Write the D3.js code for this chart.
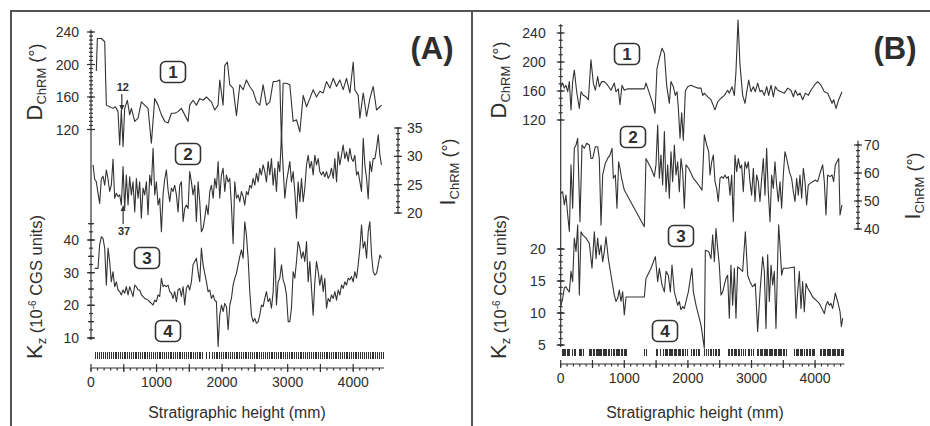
<!DOCTYPE html>
<html lang="en">
<head>
<meta charset="UTF-8">
<title>Stratigraphic profiles</title>
<script src="https://d3js.org/d3.v7.min.js"></script>
<style>
    body { margin: 0; background: #fff; }
    svg text { font-family: 'Liberation Sans', Arial, sans-serif; fill: #2e2e2e; }
    .axis { stroke: #333; stroke-width: 1.2; }
    .frame { stroke: #555; stroke-width: 2; }
    .series { fill: none; stroke: #333; stroke-width: 1.1; stroke-linejoin: round; }
    .sample { stroke: #333; stroke-width: 1; shape-rendering: crispEdges; }
    .tick-label { font-size: 14px; }
    .box { fill: #fff; stroke: #333; stroke-width: 1.6; }
    .box-num { font-size: 17px; font-weight: bold; text-anchor: middle; }
    .panel-tag { font-size: 31px; font-weight: bold; text-anchor: middle; }
    .note { font-size: 11px; font-weight: bold; text-anchor: middle; }
</style>
</head>
<body>
<svg width="930" height="426"></svg>
<script>
    // tick labels
    const heightTicks = [0, 1000, 2000, 3000, 4000];
    const declTicks = [120, 160, 200, 240];
    const inclTicksA = [20, 25, 30, 35];
    const inclTicksB = [40, 50, 60, 70];
    const suscTicksA = [10, 20, 30, 40];
    const suscTicksB = [5, 10, 15, 20];
    const boxNames = ["1", "2", "3", "4"];

    // panel A: [height mm, value]
    const declA = [[81,192],[97,232],[158,232],[209,228],[234,150],[285,148],[336,146],[372,148],[412,142],[438,101],[463,144],[489,99],[514,146],[555,156],[590,138],[616,146],[667,130],[718,134],[768,154],[819,150],[870,146],[921,103],[972,158],[1023,150],[1074,138],[1125,130],[1176,128],[1226,140],[1277,140],[1328,142],[1379,146],[1430,138],[1481,130],[1506,150],[1557,156],[1608,150],[1659,158],[1710,156],[1761,160],[1837,154],[1888,144],[1939,150],[1964,181],[2015,150],[2041,199],[2081,203],[2117,175],[2168,171],[2219,137],[2270,175],[2321,169],[2371,181],[2422,173],[2473,167],[2524,154],[2575,150],[2626,175],[2677,150],[2728,154],[2779,179],[2829,179],[2880,181],[2906,103],[2931,177],[2982,177],[3033,175],[3084,130],[3135,132],[3186,117],[3237,162],[3288,148],[3338,158],[3389,169],[3440,160],[3491,167],[3542,165],[3593,179],[3644,171],[3695,183],[3746,173],[3796,181],[3847,169],[3898,183],[3949,165],[4000,203],[4025,169],[4076,162],[4102,134],[4153,165],[4204,136],[4254,158],[4305,173],[4356,144],[4407,148],[4432,150]];
    const inclA = [[31,28.5],[56,26.0],[81,25.5],[107,23.5],[132,21.7],[158,26.0],[183,26.5],[209,24.9],[234,27.6],[260,26.0],[285,23.8],[310,24.9],[336,29.5],[361,22.6],[387,23.5],[412,22.9],[438,23.2],[463,21.4],[489,28.2],[514,20.8],[539,26.7],[565,21.4],[590,26.4],[616,23.2],[641,25.5],[667,20.2],[692,26.1],[718,22.6],[743,25.5],[768,19.1],[794,24.4],[819,23.2],[845,25.5],[870,19.7],[896,26.7],[921,24.9],[947,31.4],[972,23.2],[997,25.5],[1023,21.4],[1048,22.6],[1074,16.7],[1099,23.2],[1125,26.0],[1150,27.6],[1176,24.0],[1201,22.0],[1226,24.4],[1252,23.8],[1277,24.9],[1303,23.2],[1328,20.2],[1354,24.9],[1379,25.5],[1405,18.5],[1430,20.8],[1455,21.4],[1481,20.8],[1506,27.3],[1532,25.5],[1557,23.2],[1583,24.9],[1608,18.5],[1634,25.5],[1659,22.0],[1684,16.7],[1710,17.3],[1735,19.1],[1761,21.4],[1786,19.7],[1812,23.8],[1837,24.9],[1863,22.6],[1888,26.1],[1913,24.4],[1939,29.1],[1964,22.6],[1990,26.7],[2015,27.9],[2041,23.8],[2066,26.7],[2092,25.5],[2117,26.1],[2142,21.4],[2168,14.6],[2193,25.5],[2219,22.6],[2244,23.2],[2270,22.0],[2295,23.8],[2321,22.9],[2346,21.4],[2371,23.8],[2397,23.2],[2422,24.9],[2448,24.4],[2473,26.1],[2499,24.9],[2524,27.0],[2550,25.5],[2575,27.9],[2600,26.7],[2626,28.5],[2651,27.3],[2677,25.5],[2702,29.1],[2728,26.7],[2753,29.6],[2779,24.9],[2804,27.9],[2829,23.8],[2855,29.1],[2880,27.3],[2906,33.8],[2931,27.9],[2957,22.6],[2982,25.5],[3008,27.3],[3033,29.1],[3058,25.5],[3084,27.3],[3109,23.8],[3135,19.1],[3160,25.5],[3186,22.0],[3211,26.1],[3237,22.0],[3262,24.4],[3288,28.5],[3313,30.2],[3338,27.9],[3364,29.1],[3389,26.7],[3415,30.2],[3440,28.5],[3466,29.6],[3491,27.3],[3517,26.7],[3542,27.3],[3567,26.4],[3593,27.3],[3618,26.1],[3644,26.7],[3669,27.9],[3695,26.1],[3720,29.6],[3746,25.5],[3771,30.8],[3796,28.5],[3822,30.2],[3847,32.0],[3873,29.6],[3898,30.8],[3924,29.1],[3949,31.4],[3975,29.6],[4000,29.1],[4025,30.2],[4051,26.7],[4076,27.3],[4102,25.5],[4127,23.8],[4153,33.2],[4178,28.5],[4204,26.1],[4229,22.5],[4254,29.1],[4280,27.3],[4305,29.6],[4331,29.6],[4356,31.4],[4382,33.8],[4407,30.2],[4432,28.5]];
    const suscA = [[56,31.3],[81,31.3],[107,31.3],[132,38.5],[158,41.0],[183,40.5],[209,37.5],[234,26.2],[260,37.5],[285,33.4],[310,27.2],[336,30.3],[361,25.7],[387,27.2],[412,24.7],[438,24.2],[463,23.2],[489,24.7],[514,23.7],[539,25.7],[565,23.2],[590,25.7],[616,24.2],[641,22.7],[667,26.2],[692,25.7],[718,24.7],[743,24.7],[768,23.2],[794,22.7],[819,22.1],[845,21.9],[870,21.6],[896,21.1],[921,20.6],[947,20.1],[972,21.6],[997,21.1],[1023,23.2],[1048,22.7],[1074,28.3],[1099,25.7],[1125,26.2],[1150,25.7],[1176,26.2],[1201,24.2],[1226,23.7],[1252,22.1],[1277,24.2],[1303,21.1],[1328,24.7],[1354,25.2],[1379,22.7],[1405,25.7],[1430,20.1],[1455,25.2],[1481,26.2],[1506,24.7],[1532,27.2],[1557,32.4],[1583,33.4],[1608,34.4],[1634,30.3],[1659,27.2],[1684,37.5],[1710,32.4],[1735,29.8],[1761,27.2],[1786,24.2],[1812,24.7],[1837,22.1],[1863,23.2],[1888,21.6],[1913,21.1],[1939,7.4],[1964,17.0],[1990,20.1],[2015,18.1],[2041,20.6],[2066,19.6],[2092,12.5],[2117,20.1],[2142,22.1],[2168,26.2],[2193,28.3],[2219,29.8],[2244,32.4],[2270,34.9],[2295,37.0],[2321,34.4],[2346,45.6],[2371,41.5],[2397,34.4],[2422,24.2],[2448,17.0],[2473,15.0],[2499,16.0],[2524,14.5],[2550,15.0],[2575,17.0],[2600,20.1],[2626,19.6],[2651,22.1],[2677,24.2],[2702,21.1],[2728,22.1],[2753,19.1],[2779,24.2],[2804,37.5],[2829,20.1],[2855,27.2],[2880,28.3],[2906,32.4],[2931,27.8],[2957,26.2],[2982,23.2],[3008,15.0],[3033,15.0],[3058,19.1],[3084,30.3],[3109,28.3],[3135,33.4],[3160,39.5],[3186,37.5],[3211,34.4],[3237,36.4],[3262,33.4],[3288,39.5],[3313,27.2],[3338,33.4],[3364,25.2],[3389,17.0],[3415,27.2],[3440,33.4],[3466,30.3],[3491,26.2],[3517,29.3],[3542,24.2],[3567,28.3],[3593,19.1],[3618,22.1],[3644,21.1],[3669,23.2],[3695,22.1],[3720,24.2],[3746,21.6],[3771,24.7],[3796,23.2],[3822,26.2],[3847,25.2],[3873,27.2],[3898,26.2],[3924,28.3],[3949,27.8],[3975,28.8],[4000,27.2],[4025,30.3],[4051,28.3],[4076,32.4],[4102,37.5],[4127,44.6],[4153,37.5],[4178,39.5],[4204,34.4],[4229,42.6],[4254,45.6],[4280,35.4],[4305,30.3],[4331,29.3],[4356,29.8],[4382,32.4],[4407,35.4],[4432,34.4]];
    const samplesA = [60,90,120,150,180,210,240,270,300,330,360,385,410,440,470,500,525,550,580,610,640,665,690,720,750,780,805,830,860,890,920,945,970,1000,1030,1060,1085,1110,1140,1170,1200,1225,1250,1280,1310,1340,1365,1390,1420,1450,1480,1505,1530,1560,1590,1620,1645,1670,1700,1750,1800,1840,1870,1900,1925,1950,1980,2010,2040,2065,2090,2120,2150,2180,2205,2230,2260,2290,2320,2345,2370,2400,2430,2460,2485,2510,2540,2570,2600,2625,2650,2680,2710,2740,2765,2790,2820,2850,2880,2905,2930,2960,2990,3020,3045,3070,3100,3130,3160,3185,3210,3240,3270,3300,3325,3350,3380,3410,3440,3465,3490,3520,3550,3580,3605,3630,3660,3690,3720,3745,3770,3800,3830,3860,3885,3910,3940,3970,4000,4025,4050,4080,4110,4140,4165,4190,4220,4250,4280,4305,4330,4360,4390,4420,4450];

    // panel B: [height mm, value]
    const declB = [[5,166],[31,171],[57,164],[83,168],[110,159],[136,173],[162,134],[188,173],[214,189],[251,159],[293,136],[319,159],[356,154],[398,152],[435,148],[476,203],[513,171],[545,161],[581,180],[607,166],[644,173],[686,173],[738,168],[791,161],[843,171],[869,159],[906,163],[932,141],[964,168],[1000,161],[1053,163],[1315,163],[1341,171],[1394,157],[1446,143],[1483,129],[1514,191],[1551,205],[1593,219],[1630,212],[1666,168],[1708,143],[1734,173],[1771,166],[1802,154],[1829,159],[1850,136],[1876,95],[1902,130],[1928,92],[1960,160],[1996,166],[2049,168],[2101,166],[2154,164],[2206,164],[2232,154],[2258,157],[2311,152],[2363,148],[2426,134],[2468,145],[2520,150],[2573,154],[2625,161],[2651,157],[2693,166],[2730,154],[2756,187],[2788,258],[2819,196],[2861,154],[2898,143],[2929,161],[2956,175],[2992,159],[3029,166],[3060,159],[3097,171],[3134,159],[3165,161],[3202,154],[3239,166],[3270,154],[3307,168],[3344,152],[3375,166],[3412,161],[3464,159],[3516,157],[3569,164],[3621,161],[3658,152],[3689,161],[3726,154],[3763,157],[3804,148],[3847,157],[3894,154],[3935,161],[3988,168],[4040,173],[4093,168],[4145,159],[4197,157],[4234,150],[4266,143],[4292,148],[4329,136],[4371,148],[4423,159]];
    const inclB = [[5,52.7],[31,53.3],[57,48.6],[83,52.1],[110,45.0],[136,39.1],[162,62.9],[188,47.4],[214,68.8],[241,70.0],[267,72.4],[303,42.6],[335,70.0],[372,68.8],[408,70.6],[450,70.0],[476,65.2],[503,65.2],[545,69.4],[581,69.4],[607,65.2],[634,41.4],[660,59.3],[702,63.5],[738,65.2],[775,66.4],[807,68.8],[828,58.1],[859,59.3],[885,47.4],[911,64.0],[932,61.7],[958,58.1],[1000,53.9],[1315,40.8],[1341,65.2],[1420,61.7],[1472,58.7],[1498,62.9],[1525,77.1],[1551,58.1],[1577,66.4],[1603,55.7],[1630,74.8],[1656,53.3],[1682,62.9],[1708,51.0],[1734,67.6],[1760,56.9],[1787,70.0],[1813,59.3],[1839,64.0],[1865,53.3],[1891,65.2],[1918,60.5],[1944,47.4],[1970,62.9],[2012,61.7],[2049,59.9],[2086,58.1],[2128,56.9],[2169,55.7],[2222,53.9],[2258,73.6],[2295,70.0],[2327,67.6],[2348,59.3],[2374,64.0],[2400,66.4],[2426,56.9],[2452,54.5],[2478,49.8],[2505,58.1],[2531,58.7],[2557,58.1],[2583,59.3],[2609,58.1],[2636,58.7],[2662,52.1],[2688,59.3],[2714,42.6],[2740,66.4],[2767,60.5],[2793,65.2],[2819,61.7],[2845,62.9],[2871,53.3],[2898,64.0],[2924,61.7],[2950,64.0],[2976,56.9],[3002,52.1],[3029,61.7],[3055,49.8],[3081,59.3],[3107,56.9],[3133,49.8],[3160,58.1],[3186,65.2],[3212,52.1],[3238,68.8],[3264,53.3],[3291,42.6],[3317,59.3],[3343,54.5],[3369,64.0],[3395,55.7],[3422,49.8],[3448,56.9],[3474,47.4],[3500,59.3],[3526,67.6],[3553,65.2],[3595,60.5],[3631,58.1],[3658,53.3],[3684,49.8],[3710,58.1],[3736,52.1],[3762,59.3],[3789,51.0],[3815,61.7],[3841,56.9],[3867,48.6],[3893,55.7],[3920,56.3],[3962,56.9],[4004,57.5],[4040,56.9],[4077,59.9],[4119,62.9],[4145,56.9],[4171,45.0],[4197,59.3],[4234,58.7],[4266,59.3],[4292,56.9],[4318,62.9],[4344,64.0],[4371,65.2],[4392,45.0],[4423,48.6]];
    const suscB = [[5,11.2],[31,12.3],[57,13.9],[83,14.1],[110,13.6],[136,13.3],[162,16.5],[188,14.9],[214,21.7],[241,19.6],[267,23.8],[293,12.8],[319,22.7],[345,22.2],[398,21.7],[450,20.9],[492,17.0],[529,22.7],[555,18.5],[581,21.7],[607,19.1],[634,20.6],[660,18.0],[686,19.6],[712,21.9],[749,18.5],[791,15.9],[843,12.8],[869,11.8],[896,12.3],[922,13.6],[948,11.8],[974,13.3],[1000,9.7],[1027,12.5],[1315,12.5],[1341,15.4],[1420,17.0],[1488,18.8],[1525,14.9],[1551,17.0],[1593,14.4],[1630,13.3],[1656,16.5],[1692,15.9],[1724,13.3],[1750,17.5],[1787,13.3],[1813,12.3],[1839,11.2],[1865,11.8],[1891,10.5],[1918,11.0],[1944,10.7],[1970,11.8],[2007,13.3],[2039,15.4],[2064,17.0],[2086,13.3],[2128,11.2],[2206,8.1],[2258,4.5],[2274,19.8],[2327,19.6],[2363,18.5],[2390,22.2],[2416,18.0],[2442,23.2],[2468,20.1],[2494,17.5],[2520,12.8],[2547,13.3],[2573,14.4],[2599,15.4],[2625,15.9],[2651,9.2],[2677,17.5],[2704,11.2],[2730,17.0],[2756,9.2],[2782,17.2],[2808,17.0],[2861,16.5],[2903,22.7],[2940,15.9],[2976,14.9],[3018,14.1],[3060,14.6],[3097,7.1],[3134,13.3],[3175,18.8],[3202,16.5],[3228,7.6],[3254,19.1],[3280,11.8],[3307,17.5],[3333,14.4],[3359,16.5],[3385,7.6],[3412,18.5],[3427,23.8],[3448,20.6],[3474,15.9],[3500,17.0],[3569,17.0],[3673,17.2],[3700,9.2],[3726,13.3],[3752,16.5],[3778,10.7],[3804,14.9],[3830,10.2],[3857,14.6],[3883,13.9],[3920,13.3],[3962,12.5],[4014,12.0],[4066,11.5],[4108,10.7],[4145,9.9],[4171,11.2],[4197,11.8],[4224,11.2],[4250,11.5],[4276,10.7],[4318,13.1],[4355,11.8],[4392,10.2],[4413,7.9],[4434,9.2]];
    const samplesB = [20,38,56,74,92,110,128,185,205,228,282,300,318,345,440,458,476,505,530,548,566,584,602,620,640,660,680,700,712,738,760,790,815,840,862,880,900,920,945,970,990,1010,1027,1315,1341,1498,1520,1561,1614,1635,1655,1675,1695,1715,1735,1755,1775,1795,1815,1840,1860,1880,1905,1925,1950,1981,2049,2075,2100,2130,2155,2180,2258,2285,2311,2348,2370,2395,2420,2445,2470,2494,2625,2650,2675,2700,2720,2740,2760,2783,2809,2835,2861,2903,2940,2966,2990,3018,3087,3110,3130,3150,3170,3190,3210,3230,3250,3270,3290,3310,3330,3350,3370,3390,3410,3430,3450,3470,3490,3515,3543,3673,3695,3715,3735,3755,3775,3800,3825,3850,3875,3900,3925,3950,3970,3988,4082,4100,4120,4140,4160,4180,4200,4220,4240,4260,4280,4300,4320,4340,4360,4380,4400,4420,4433];

    const svg = d3.select("svg");

    // outer frame of the figure
    svg.append("line").attr("class", "frame").attr("x1", 11).attr("x2", 930).attr("y1", 11).attr("y2", 11);
    svg.append("line").attr("class", "frame").attr("x1", 11).attr("x2", 11).attr("y1", 10).attr("y2", 426);
    svg.append("line").attr("class", "frame").attr("x1", 472).attr("x2", 472).attr("y1", 10).attr("y2", 426);

    function hTicks(g, scale, ax, values, half) {
        g.selectAll(null).data(values).join("line").attr("class", "axis")
            .attr("x1", ax - half).attr("x2", ax + half)
            .attr("y1", d => scale(d)).attr("y2", d => scale(d));
    }

    function tickText(g, scale, ax, values, anchor) {
        g.selectAll(null).data(values).join("text").attr("class", "tick-label")
            .attr("x", ax).attr("y", d => scale(d)).attr("dy", "0.36em")
            .attr("text-anchor", anchor).text(d => d);
    }

    // rotated label like  D_ChRM (°)
    function sideLabel(g, cx, cy, parts) {
        const t = g.append("text").attr("text-anchor", "middle")
            .attr("transform", `translate(${cx},${cy}) rotate(-90)`);
        parts.forEach(p => t.append("tspan").attr("font-size", p[1]).attr("dy", p[2]).text(p[0]));
    }

    function drawPanel(c) {
        const g = svg.append("g");
        const x = d3.scaleLinear().domain([0, 4000]).range(c.xRange);
        const yD = d3.scaleLinear().domain([120, 240]).range(c.dRange);
        const yI = d3.scaleLinear().domain(c.iDomain).range(c.iRange);
        const yK = d3.scaleLinear().domain(c.kDomain).range(c.kRange);
        const ax = x(0);

        // left spine, shared by declination and susceptibility
        g.append("line").attr("class", "axis").attr("x1", ax).attr("x2", ax)
            .attr("y1", yD(c.dTop)).attr("y2", yK(c.kDomain[0]) + 2);
        hTicks(g, yD, ax, d3.range(120, c.dTop + 0.1, c.dMinor), 2);
        hTicks(g, yD, ax, declTicks, 4);
        tickText(g, yD, ax - c.leftGap, declTicks, "end");

        hTicks(g, yK, ax, d3.range(c.kDomain[0], c.kTop + 0.1, c.kMinor), 2);
        hTicks(g, yK, ax, d3.range(c.kDomain[0], c.kTop + 0.1, 5), 3);
        hTicks(g, yK, ax, c.kTicks, 4);
        tickText(g, yK, ax - c.leftGap, c.kTicks, "end");

        // right inclination axis
        g.append("line").attr("class", "axis").attr("x1", c.iAxisX).attr("x2", c.iAxisX)
            .attr("y1", yI(c.iTop)).attr("y2", yI(c.iDomain[0]) + 1);
        hTicks(g, yI, c.iAxisX, d3.range(c.iDomain[0], c.iDomain[1] + 0.1, c.iMinor), 2);
        hTicks(g, yI, c.iAxisX, c.iTicks, 4);
        tickText(g, yI, c.iAxisX + c.rightGap, c.iTicks, "start");

        // height axis
        g.append("line").attr("class", "axis").attr("x1", ax).attr("x2", x(c.xEnd))
            .attr("y1", c.axisY).attr("y2", c.axisY);
        g.selectAll(null).data(d3.range(0, c.xEnd, 100)).join("line").attr("class", "axis")
            .attr("x1", d => x(d)).attr("x2", d => x(d))
            .attr("y1", c.axisY).attr("y2", c.axisY + 2.5);
        g.selectAll(null).data(d3.range(0, c.xEnd, 500)).join("line").attr("class", "axis")
            .attr("x1", d => x(d)).attr("x2", d => x(d))
            .attr("y1", c.axisY - 4).attr("y2", c.axisY + 4);
        g.selectAll(null).data(heightTicks).join("text").attr("class", "tick-label")
            .attr("x", d => x(d)).attr("y", c.axisY + 19).attr("text-anchor", "middle").text(d => d);
        g.append("text").attr("x", c.titleX).attr("y", 418).attr("text-anchor", "middle")
            .attr("font-size", "15.8px").text("Stratigraphic height (mm)");

        // sample positions (4)
        g.selectAll(null).data(c.samples).join("line").attr("class", "sample")
            .attr("x1", d => Math.round(x(d)) + 0.5).attr("x2", d => Math.round(x(d)) + 0.5)
            .attr("y1", c.sampleY).attr("y2", c.sampleY + 7);

        // series curves
        const lineOf = ys => d3.line().x(d => x(d[0])).y(d => ys(d[1]));
        g.append("path").attr("class", "series").attr("d", lineOf(yD)(c.decl));
        g.append("path").attr("class", "series").attr("d", lineOf(yI)(c.incl));
        g.append("path").attr("class", "series").attr("d", lineOf(yK)(c.susc));

        // numbered boxes
        c.boxes.forEach((b, i) => {
            g.append("rect").attr("class", "box").attr("x", b[0] - 12.5).attr("y", b[1] - 10.5)
                .attr("width", 25).attr("height", 21).attr("rx", 5);
            g.append("text").attr("class", "box-num").attr("x", b[0]).attr("y", b[1] + 6).text(boxNames[i]);
        });

        g.append("text").attr("class", "panel-tag").attr("x", c.tagX).attr("y", 59).text(c.tag);

        sideLabel(g, c.dLabel[0], c.dLabel[1], [["D", 22, 0], ["ChRM", 13, 4], [" (°)", 18, -4]]);
        sideLabel(g, c.kLabel[0], c.kLabel[1], [["K", 22, 0], ["z", 13, 4], [" (10", 16.5, -4], ["-6", 10, -6], [" CGS units)", 16.5, 6]]);
        sideLabel(g, c.iLabel[0], c.iLabel[1], [["I", 22, 0], ["ChRM", 13, 4], [" (°)", 18, -4]]);

        return x;
    }

    const xA = drawPanel({
        tag: "(A)", tagX: 432, xRange: [91, 353.2], xEnd: 4470, axisY: 368, sampleY: 352, titleX: 237,
        dRange: [129.5, 32], dTop: 243, dMinor: 5,
        iDomain: [20, 35], iRange: [213, 128], iTop: 35, iMinor: 1, iTicks: inclTicksA, iAxisX: 398,
        kDomain: [10, 40], kRange: [338, 240], kTop: 45, kMinor: 2.5, kTicks: suscTicksA,
        leftGap: 12, rightGap: 9,
        decl: declA, incl: inclA, susc: suscA, samples: samplesA,
        boxes: [[173, 72], [188, 154], [147, 258], [168, 331]],
        dLabel: [42, 82], kLabel: [42, 287], iLabel: [455, 172]
    });

    drawPanel({
        tag: "(B)", tagX: 895, xRange: [560.7, 815.1], xEnd: 4460, axisY: 364, sampleY: 349, titleX: 695,
        dRange: [120, 33], dTop: 252, dMinor: 10,
        iDomain: [40, 70], iRange: [229, 145], iTop: 71.5, iMinor: 2, iTicks: inclTicksB, iAxisX: 858,
        kDomain: [5, 20], kRange: [345, 249], kTop: 20, kMinor: 1, kTicks: suscTicksB,
        leftGap: 15, rightGap: 6,
        decl: declB, incl: inclB, susc: suscB, samples: samplesB,
        boxes: [[627, 54], [633, 137], [681, 236], [665, 331]],
        dLabel: [506, 80], kLabel: [506, 287], iLabel: [920, 186]
    });

    // annotated samples 12 and 37 in panel A
    const notes = svg.append("g");
    notes.append("text").attr("class", "note").attr("x", xA(470) + 1).attr("y", 91).text("12");
    notes.append("line").attr("class", "axis").attr("x1", xA(470)).attr("x2", xA(470)).attr("y1", 94).attr("y2", 108);
    notes.append("path").attr("fill", "#333")
        .attr("d", `M${xA(470) - 2.5},105 L${xA(470) + 2.5},105 L${xA(470)},111 Z`);
    notes.append("text").attr("class", "note").attr("x", xA(490) + 1).attr("y", 235).text("37");
    notes.append("line").attr("class", "axis").attr("x1", xA(490)).attr("x2", xA(490)).attr("y1", 224).attr("y2", 209);
    notes.append("path").attr("fill", "#333")
        .attr("d", `M${xA(490) - 2.5},211 L${xA(490) + 2.5},211 L${xA(490)},205 Z`);
</script>
</body>
</html>
